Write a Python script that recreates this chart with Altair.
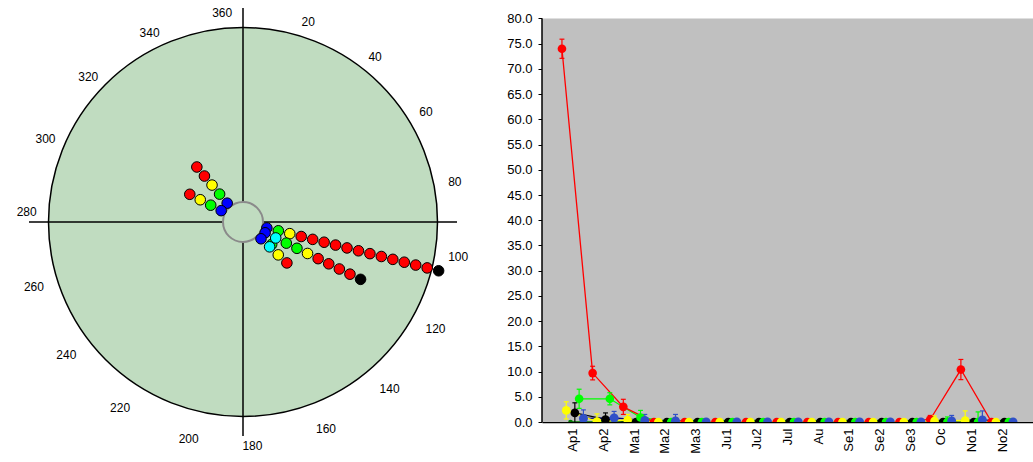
import altair as alt
import pandas as pd

FONT = "Liberation Sans"

# ---------------- left panel: polar diagram ----------------
# each ray: compass angle (deg), index of its first ring step, colours of the successive points
ray_angle = [128, 320, 297.5, 104, 116, 133]
ray_first_step = [1, 0, 0, 0, 0, 0]
ray_colors = [
    ["green"],
    ["blue", "green", "yellow", "red", "red"],
    ["blue", "green", "yellow", "red"],
    ["blue", "green", "yellow"] + ["red"] * 12 + ["black"],
    ["blue", "cyan", "green", "green", "yellow", "red", "red", "red", "red", "black"],
    ["blue", "cyan", "yellow", "red"],
]
compass_labels = list(range(20, 361, 20))

PALETTE = {"red": "#ff0000", "yellow": "#ffff00", "green": "#00ff00",
           "blue": "#0000ff", "cyan": "#00ffff", "black": "#000000"}

rows = []
for i, (ang, s0, cols) in enumerate(zip(ray_angle, ray_first_step, ray_colors)):
    for j, c in enumerate(cols):
        rows.append({"angle": ang, "step": s0 + j, "fill": PALETTE[c], "ray": i})
polar_df = pd.DataFrame(rows)
polar_df["z"] = polar_df["step"] * 10 + polar_df["ray"]

PW, PH = 486, 462          # panel size
CX, CY = 243, 222          # centre inside panel
R_OUT = 194.5              # outer circle radius
R_IN = 20                  # inner circle radius
R0, STEP = 24.6, 11.8      # radius of ring step 0 and ring spacing
AX_LEN = 214               # half length of cross lines
LR, LDY = 217, 7           # label ring radius / vertical shift
LROT_E, LROT_W = -2.5, -5.5  # label ring rotation on east / west half

xs = alt.Scale(domain=[-CX, PW - CX], nice=False, zero=False)
ys = alt.Scale(domain=[CY - PH, CY], nice=False, zero=False)
GREEN_BG = "#c0dcc0"

centre = pd.DataFrame({"x": [0], "y": [0]})
outer = alt.Chart(centre).mark_circle(
    size=(2 * R_OUT) ** 2, color=GREEN_BG, stroke="black", strokeWidth=1.5, opacity=1
).encode(x=alt.X("x:Q", scale=xs, axis=None), y=alt.Y("y:Q", scale=ys, axis=None))

cross_df = pd.DataFrame({"x": [-AX_LEN, 0], "x2": [AX_LEN, 0],
                         "y": [0, -AX_LEN], "y2": [0, AX_LEN]})
cross = alt.Chart(cross_df).mark_rule(color="black", strokeWidth=1.5).encode(
    x=alt.X("x:Q", scale=xs, axis=None), x2="x2:Q",
    y=alt.Y("y:Q", scale=ys, axis=None), y2="y2:Q")

inner = alt.Chart(centre).mark_circle(
    size=(2 * R_IN) ** 2, color=GREEN_BG, stroke="#8a8a8a", strokeWidth=2, opacity=1
).encode(x=alt.X("x:Q", scale=xs, axis=None), y=alt.Y("y:Q", scale=ys, axis=None))

pts = alt.Chart(polar_df).transform_calculate(
    r=f"{R0} + {STEP} * datum.step",
    px="datum.r * sin(datum.angle * PI / 180)",
    py="datum.r * cos(datum.angle * PI / 180)",
).mark_circle(size=112, stroke="black", strokeWidth=1, opacity=1).encode(
    x=alt.X("px:Q", scale=xs, axis=None),
    y=alt.Y("py:Q", scale=ys, axis=None),
    color=alt.Color("fill:N", scale=None),
    order="z:Q",
)

labels = alt.Chart(pd.DataFrame({"deg": compass_labels})).transform_calculate(
    a=f"(datum.deg + (datum.deg > 180 ? {LROT_W} : {LROT_E})) * PI / 180",
    lx=f"{LR} * sin(datum.a)",
    ly=f"{LR} * cos(datum.a)",
).mark_text(font=FONT, fontSize=12, color="black", align="center",
            baseline="middle", dy=LDY).encode(
    x=alt.X("lx:Q", scale=xs, axis=None),
    y=alt.Y("ly:Q", scale=ys, axis=None),
    text=alt.Text("deg:Q", format="d"),
)

left = alt.layer(outer, cross, inner, pts, labels).properties(width=PW, height=PH)

# ---------------- right panel: series with error bars ----------------
categories = ["Ap1", "Ap2", "Ma1", "Ma2", "Ma3", "Ju1", "Ju2", "Jul",
              "Au", "Se1", "Se2", "Se3", "Oc", "No1", "No2"]
series = ["dkgreen", "black", "green", "blue", "red", "yellow"]   # drawing order

values = {
    "red":     [74.0, 9.7, 3.0, 0, 0, 0, 0, 0, 0, 0, 0, 0, 0.5, 10.4, 0],
    "yellow":  [2.3, 0.1, 0.4, 0, 0, 0, 0, 0, 0, 0, 0, 0, 0.2, 0.3, 0],
    "dkgreen": [0, 0, 0, 0, 0, 0, 0, 0, 0, 0, 0, 0, 0, 0, 0],
    "black":   [1.8, 0.5, 0, 0, 0, 0, 0, 0, 0, 0, 0, 0, 0, 0, 0],
    "green":   [4.6, 4.6, 0.9, 0, 0, 0, 0, 0, 0, 0, 0, 0, 0, 0, 0],
    "blue":    [0.7, 0.8, 0.3, 0.2, 0, 0, 0, 0, 0, 0, 0, 0, 0.2, 0.4, 0],
}
errors = {
    "red":     [1.9, 1.35, 1.5, 0, 0, 0, 0, 0, 0, 0, 0, 0, 0.8, 2.0, 0],
    "yellow":  [1.7, 1.5, 1.1, 0, 0, 0, 0, 0, 0, 0, 0, 0, 1.0, 1.9, 0],
    "dkgreen": [0, 0, 0, 0, 0, 0, 0, 0, 0, 0, 0, 0, 0, 0, 0],
    "black":   [2.0, 1.3, 0, 0, 0, 0, 0, 0, 0, 0, 0, 0, 0, 0, 0],
    "green":   [1.9, 1.2, 1.4, 0, 0, 0, 0, 0, 0, 0, 0, 0, 1.0, 2.0, 0],
    "blue":    [1.7, 1.3, 1.2, 1.3, 0, 0, 0, 0, 0, 0, 0, 0, 1.1, 1.8, 0],
}
offset = {"red": -0.35, "yellow": -0.21, "dkgreen": -0.07,
          "black": 0.07, "green": 0.21, "blue": 0.35}
marker_col = {"red": "#ff0000", "yellow": "#ffff00", "dkgreen": "#007a00",
              "black": "#000000", "green": "#00ff00", "blue": "#3050c8"}
line_col = {"red": "#ff0000", "yellow": "#ffff00", "dkgreen": "#007a00",
            "black": "#000000", "green": "#00ff00", "blue": "#000080"}
marker_size = {"red": 75, "yellow": 75, "dkgreen": 22,
               "black": 75, "green": 75, "blue": 80}

CAP = 0.08
recs = []
for rank, s in enumerate(series):
    for i, cat in enumerate(categories):
        v, e = values[s][i], errors[s][i]
        xp = i + 1 + offset[s]
        recs.append({"series": s, "idx": i + 1, "x": xp, "v": v, "err": e,
                     "lo": v - e, "hi": v + e, "xl": xp - CAP, "xr": xp + CAP,
                     "mcol": marker_col[s], "lcol": line_col[s],
                     "msize": marker_size[s], "rank": rank})
df = pd.DataFrame(recs)

RW, RH = 491, 422
XMAX = len(categories) + 1
YTOP = 80
YMAX = YTOP * RH / 403.5

rxs = alt.Scale(domain=[0, XMAX], nice=False, zero=False)
rys = alt.Scale(domain=[0, YMAX], nice=False, zero=False)
cat_js = "[" + ",".join(f"'{c}'" for c in categories) + "]"
xaxis = alt.Axis(values=list(range(1, len(categories) + 1)),
                 labelExpr=f"{cat_js}[datum.value - 1]",
                 labelAngle=-90, labelPadding=6, ticks=False, grid=False,
                 domain=True, domainColor="black", domainWidth=1.5,
                 labelFont=FONT, labelFontSize=13, labelColor="black",
                 labelOverlap=False, labelFlush=False, title=None)
yaxis = alt.Axis(values=list(range(0, YTOP + 1, 5)), format=".1f",
                 domain=False, ticks=True, tickSize=4, tickColor="black",
                 labelPadding=6, grid=False, labelFont=FONT, labelFontSize=13,
                 labelColor="black", title=None)

frame = pd.DataFrame({"x0": [0], "x1": [XMAX], "y0": [0], "y1": [YTOP]})
bg = alt.Chart(frame).mark_rect(color="#c0c0c0").encode(
    x=alt.X("x0:Q", scale=rxs, axis=xaxis), x2="x1:Q",
    y=alt.Y("y0:Q", scale=rys, axis=yaxis), y2="y1:Q")
yline = alt.Chart(frame).mark_rule(color="black", strokeWidth=1.5).encode(
    x=alt.X("x0:Q", scale=rxs, axis=xaxis),
    y=alt.Y("y0:Q", scale=rys, axis=yaxis), y2="y1:Q")

lines = alt.Chart(df).mark_line(strokeWidth=1.3, clip=True).encode(
    x=alt.X("x:Q", scale=rxs, axis=xaxis),
    y=alt.Y("v:Q", scale=rys, axis=yaxis),
    detail="series:N", color=alt.Color("lcol:N", scale=None), order="idx:Q")

eb = alt.Chart(df).transform_filter("datum.err > 0")
err_v = eb.mark_rule(strokeWidth=1.2, clip=True).encode(
    x=alt.X("x:Q", scale=rxs, axis=xaxis),
    y=alt.Y("lo:Q", scale=rys, axis=yaxis), y2="hi:Q",
    color=alt.Color("mcol:N", scale=None))
cap_hi = eb.mark_rule(strokeWidth=1.2, clip=True).encode(
    x=alt.X("xl:Q", scale=rxs, axis=xaxis), x2="xr:Q",
    y=alt.Y("hi:Q", scale=rys, axis=yaxis),
    color=alt.Color("mcol:N", scale=None))
cap_lo = eb.mark_rule(strokeWidth=1.2, clip=True).encode(
    x=alt.X("xl:Q", scale=rxs, axis=xaxis), x2="xr:Q",
    y=alt.Y("lo:Q", scale=rys, axis=yaxis),
    color=alt.Color("mcol:N", scale=None))

dots = alt.Chart(df).mark_circle(opacity=1, clip=True).encode(
    x=alt.X("x:Q", scale=rxs, axis=xaxis),
    y=alt.Y("v:Q", scale=rys, axis=yaxis),
    color=alt.Color("mcol:N", scale=None),
    size=alt.Size("msize:Q", scale=None),
    order="rank:Q")

right = alt.layer(bg, lines, err_v, cap_hi, cap_lo, dots, yline).properties(width=RW, height=RH)

chart = alt.hconcat(left, right, spacing=20).properties(
    padding=0, background="white"
).configure_view(stroke=None)

chart.save("out.html", embed_options={"renderer": "svg", "actions": False})
